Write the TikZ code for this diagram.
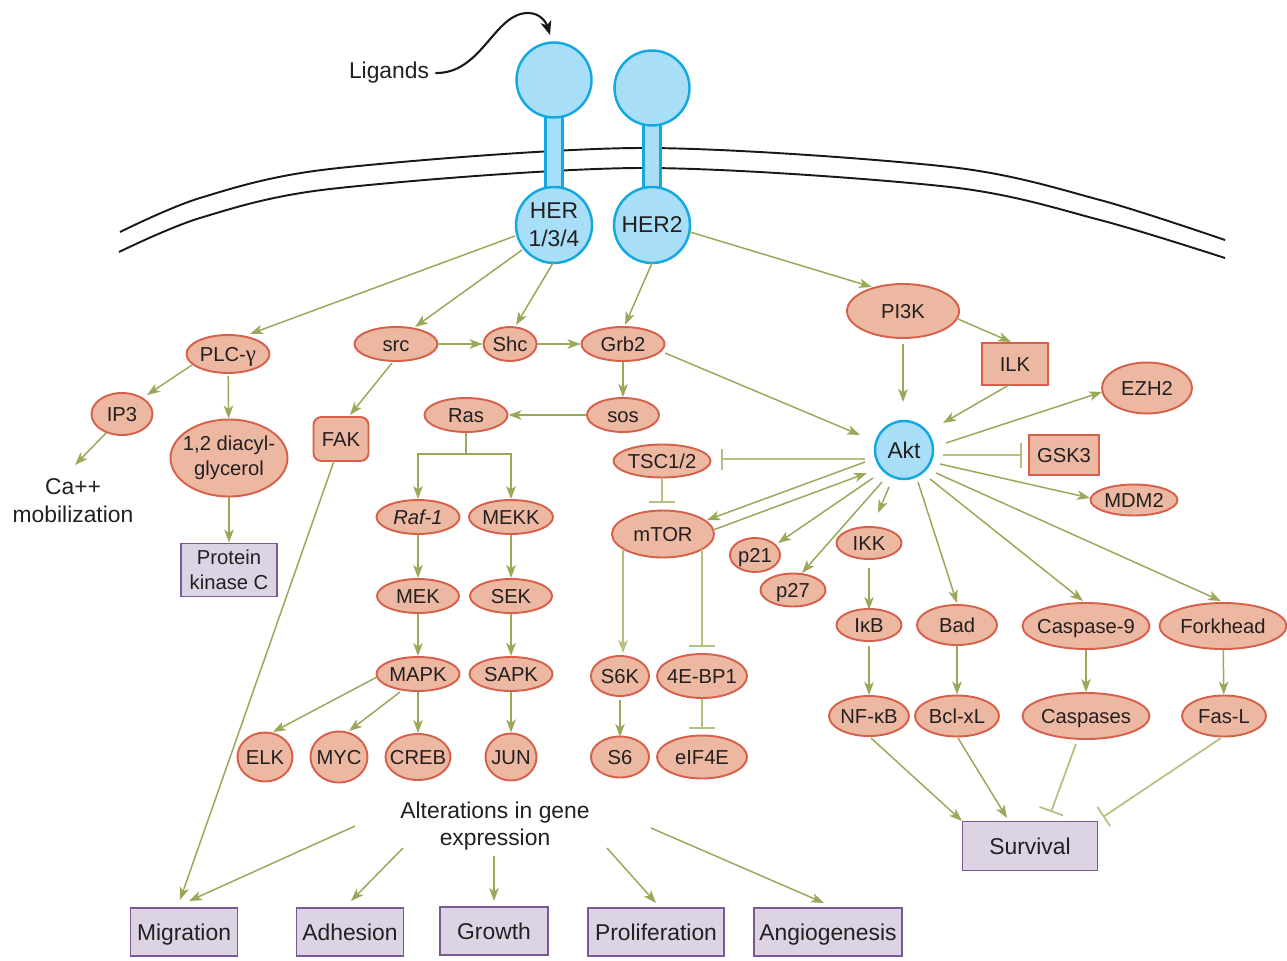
\documentclass[tikz,border=0pt]{standalone}
\usepackage{fontspec}
\setmainfont{Liberation Sans}
\newfontfamily\lser{Liberation Serif}
\usetikzlibrary{arrows.meta,shapes.geometric,calc}
\definecolor{salF}{HTML}{ECB8A2}
\definecolor{salB}{HTML}{D6604A}
\definecolor{bluF}{HTML}{A8DEF7}
\definecolor{bluB}{HTML}{14A8E0}
\definecolor{purF}{HTML}{DCD4E4}
\definecolor{purB}{HTML}{7A5995}
\definecolor{grn}{HTML}{9AA85A}
\definecolor{grnL}{HTML}{B3C283}
\definecolor{txt}{HTML}{231F20}
\tikzset{
  sz/.style 2 args={minimum width=#1*0.02cm, minimum height=#2*0.02cm},
  small/.style={font=\fontsize{11.5}{14.5}\selectfont},
  prot/.style={small, ellipse, draw=salB, fill=salF, line width=1.1pt, inner xsep=-0.4cm, inner ysep=-0.2cm,
    text height=8.2pt, text depth=0pt, align=center},
  multi/.style={text height={}, text depth={}},
  pbox/.style={small, rectangle, draw=salB, fill=salF, line width=1.1pt, inner sep=0pt, text height=8.2pt, text depth=0pt},
  outc/.style={rectangle, draw=purB, fill=purF, line width=1.1pt, inner sep=0pt, align=center,
    text height=9.3pt, text depth=0pt},
  rec/.style={circle, draw=bluB, fill=bluF, line width=1.4pt, inner sep=0pt, align=center},
  plain/.style={inner sep=0pt, align=center},
  ln/.style={draw=grn, line width=0.85pt},
  arr/.style={ln, -{Stealth[length=0.26cm,width=0.19cm,inset=0.07cm]}},
  inh/.style={draw=grnL, line width=1pt, -{Bar[width=#1]}},
  memb/.style={draw=black!90, line width=1.1pt},
  stem/.style={draw=bluB, fill=bluF, line width=1.4pt},
}
\begin{document}
\begin{tikzpicture}[x=0.02cm, y=-0.02cm, font=\fontsize{13}{15.8}\selectfont,
  every node/.append style={text=txt}]
\useasboundingbox (0,0) rectangle (1287,960);
% membrane
\draw[memb] plot[smooth] coordinates {(120,232) (200,198) (330,169) (640,148) (950,167) (1100,200) (1225,240)};
\draw[memb] plot[smooth] coordinates {(119,252) (200,218) (330,189) (640,168) (950,187) (1100,220) (1225,258)};
% receptor stems
\draw[stem] (545.5,112) rectangle (562.5,192);
\draw[stem] (643.5,120) rectangle (660.5,192);
% receptors
\node[rec, minimum size=75*0.02cm] (h1top) at (554,80) {};
\node[rec, minimum size=76*0.02cm] (h1) at (554,225) {HER\\1/3/4};
\node[rec, minimum size=75*0.02cm] (h2top) at (652,88) {};
\node[rec, minimum size=76*0.02cm] (h2) at (652,225) {HER2};
% ligands
\node[plain] (lig) at (389,73) {Ligands};
\draw[line width=1.2pt, black!90, -{Stealth[length=0.28cm,width=0.22cm,inset=0.08cm]}]
  ($(lig.east)+(6,0)$) .. controls (482,74) and (494,13) .. (528,13)
  .. controls (540,13) and (546,22) .. ($(h1top)+(-4,-45)$);
% left branch
\node[prot, sz={83}{38}] (plc) at (228,354) {PLC-{\lser\fontsize{13}{14}\selectfont γ}};
\node[prot, sz={61}{42}] (ip3) at (122,414) {IP3};
\node[prot, multi, sz={117}{77}] (dag) at (229,458) {1,2 diacyl-\\glycerol};
\node[plain] (ca) at (73,501) {Ca++\\mobilization};
\node[outc, small, multi, sz={96}{53}] (pkc) at (229,570) {Protein\\kinase C};
\node[prot, sz={83}{34}] (src) at (396,344) {src};
\node[prot, sz={53}{34}] (shc) at (510,344) {Shc};
\node[prot, sz={83}{34}] (grb2) at (623,344) {Grb2};
\node[pbox, rounded corners=0.16cm, sz={55}{44}] (fak) at (341,439) {FAK};
\node[prot, sz={83}{34}] (ras) at (466,415) {Ras};
\node[prot, sz={72}{34}] (sos) at (623,415) {sos};
\node[prot, sz={83}{34}] (raf) at (418,517) {\itshape Raf-1};
\node[prot, sz={84}{34}] (mekk) at (511,517) {MEKK};
\node[prot, sz={82}{34}] (mek) at (418,596) {MEK};
\node[prot, sz={82}{34}] (sek) at (511,596) {SEK};
\node[prot, sz={83}{34}] (mapk) at (418,674) {MAPK};
\node[prot, sz={83}{34}] (sapk) at (511,674) {SAPK};
\node[prot, sz={55}{49}] (elk) at (265,757) {ELK};
\node[prot, sz={57}{51}] (myc) at (339,757) {MYC};
\node[prot, sz={65}{46}] (creb) at (418,757) {CREB};
\node[prot, sz={51}{47}] (jun) at (511,757) {JUN};
% mTOR branch
\node[prot, sz={97}{33}] (tsc) at (662,461) {TSC1/2};
\node[prot, sz={102}{47}] (mtor) at (663,534) {mTOR};
\node[prot, sz={58}{40}] (s6k) at (620,676) {S6K};
\node[prot, sz={90}{44}] (ebp) at (702,676) {4E-BP1};
\node[prot, sz={58}{41}] (s6) at (620,757) {S6};
\node[prot, sz={90}{43}] (eif) at (702,757) {eIF4E};
% Akt branch
\node[prot, sz={112}{54}] (pi3k) at (903,311) {PI3K};
\node[pbox, sz={66}{42}] (ilk) at (1015,364) {ILK};
\node[prot, sz={90}{51}] (ezh2) at (1147,388) {EZH2};
\node[rec, minimum size=58*0.02cm] (akt) at (904,450) {Akt};
\node[pbox, sz={70}{40}] (gsk3) at (1064,455) {GSK3};
\node[prot, sz={87}{31}] (mdm2) at (1134,500) {MDM2};
\node[prot, sz={50}{34}] (p21) at (755,555) {p21};
\node[prot, sz={65}{33}] (p27) at (793,590) {p27};
\node[prot, sz={65}{32}] (ikk) at (869,543) {IKK};
\node[prot, sz={65}{32}] (ikb) at (869,625) {IκB};
\node[prot, sz={80}{40}] (bad) at (957,625) {Bad};
\node[prot, sz={127}{46}] (casp9) at (1086,626) {Caspase-9};
\node[prot, sz={127}{46}] (fork) at (1223,626) {Forkhead};
\node[prot, sz={80}{40}] (nfkb) at (869,716) {NF-κB};
\node[prot, sz={84}{41}] (bcl) at (957,716) {Bcl-xL};
\node[prot, sz={127}{46}] (casps) at (1086,716) {Caspases};
\node[prot, sz={84}{41}] (fasl) at (1224,716) {Fas-L};
\node[outc, sz={135}{49}] (surv) at (1030,846) {Survival};
% outcomes
\node[plain] (alt) at (495,826) {Alterations in gene\\expression};
\node[outc, sz={107}{48}] (mig) at (184,932) {Migration};
\node[outc, sz={107}{48}] (adh) at (350,932) {Adhesion};
\node[outc, sz={108}{48}] (grow) at (494,931) {Growth};
\node[outc, sz={136}{48}] (prol) at (656,932) {Proliferation};
\node[outc, sz={148}{48}] (ang) at (828,932) {Angiogenesis};
% connectors: receptors
\draw[arr] ($(h1)+(-39,11)$) -- ($(plc)+(22,-20)$);
\draw[arr] ($(h1)+(-32,25)$) -- ($(src)+(19,-17)$);
\draw[arr] ($(h1)+(-1,38)$) -- ($(shc)+(6,-19)$);
\draw[arr] ($(h2)+(0,38)$) -- ($(grb2)+(2,-19)$);
\draw[arr] ($(h2)+(38,7)$) -- ($(pi3k)+(-31,-24)$);
% PLC branch
\draw[arr] ($(plc)+(-36,11)$) -- ($(ip3)+(25,-19)$);
\draw[arr, shorten <=0.04cm] (plc) -- (dag);
\draw[arr] ($(ip3)+(-16,19)$) -- ($(ca)+(2,-36)$);
\draw[arr] (dag) -- (pkc);
% src / Ras branch
\draw[arr] (src) -- (shc);
\draw[arr] (shc) -- (grb2);
\draw[arr] ($(src)+(-4,19)$) -- ($(fak)+(9,-24)$);
\draw[arr] (grb2) -- (sos);
\draw[arr] ($(grb2)+(42,9)$) -- ($(akt)+(-44,-15)$);
\draw[arr] (sos) -- (ras);
\draw[ln] (ras.south) -- ++(0,21) coordinate (rb);
\draw[arr] (rb) -| (raf);
\draw[arr] (rb) -| (mekk);
\draw[arr] (raf) -- (mek);
\draw[arr, line width=1.2pt] (mekk) -- (sek);
\draw[arr] (mek) -- (mapk);
\draw[arr, line width=1.2pt] (sek) -- (sapk);
\draw[arr] (mapk) -- (creb);
\draw[arr, line width=1.2pt] (sapk) -- (jun);
\draw[arr] ($(mapk)+(-41,3)$) -- ($(elk)+(8,-25)$);
\draw[arr] ($(mapk)+(-18,18)$) -- ($(myc)+(10,-26)$);
\draw[arr] ($(fak)+(-7,22)$) -- ($(mig)+(-4,-32)$);
% outcomes
\draw[arr] ($(alt)+(-140,0)$) -- ($(mig)+(5,-31)$);
\draw[arr] ($(alt)+(-92,22)$) -- ($(adh)+(1,-31)$);
\draw[arr] ($(alt)+(-1,30)$) -- ($(grow)+(0,-30)$);
\draw[arr] ($(alt)+(112,22)$) -- ($(prol)+(0,-29)$);
\draw[arr] ($(alt)+(156,2)$) -- ($(ang)+(-4,-29)$);
% Akt
\draw[arr] ($(pi3k)+(0,33)$) -- ($(akt)+(-1,-48)$);
\draw[arr] ($(pi3k)+(55,8)$) -- ($(ilk)+(-4,-22)$);
\draw[arr] ($(ilk)+(-6,21)$) -- ($(akt)+(39,-27)$);
\draw[arr] ($(akt)+(42,-7)$) -- ($(ezh2)+(-45,4)$);
\draw[inh=0.5cm] ($(akt)+(39,5)$) -- ($(gsk3)+(-42,0)$);
\draw[arr] ($(akt)+(36,14)$) -- ($(mdm2)+(-44,-2)$);
\draw[inh=0.42cm] ($(akt)+(-39,9)$) -- ($(tsc)+(59,-2)$);
\draw[inh=0.52cm] ($(tsc)+(0,17)$) -- ($(mtor)+(-1,-31)$);
\draw[arr] ($(akt)+(-39,12)$) -- ($(mtor)+(44,-14)$);
\draw[arr] ($(mtor)+(50,-4)$) -- ($(akt)+(-37,23)$);
\draw[arr] ($(akt)+(-31,28)$) -- ($(p21)+(23,-12)$);
\draw[arr] ($(akt)+(-22,32)$) -- ($(p27)+(9,-17)$);
\draw[arr] ($(akt)+(-15,37)$) -- ($(ikk)+(9,-30)$);
\draw[arr] ($(ikk)+(0,25)$) -- ($(ikb)+(0,-15)$);
\draw[arr] ($(akt)+(14,32)$) -- ($(bad)+(0,-22)$);
\draw[arr] ($(akt)+(26,29)$) -- ($(casp9)+(-3,-25)$);
\draw[arr] ($(akt)+(32,23)$) -- ($(fork)+(-2,-25)$);
\draw[arr, shorten <=0.08cm] (ikb) -- (nfkb);
\draw[arr] (bad) -- (bcl);
\draw[arr] (casp9) -- (casps);
\draw[arr] (fork) -- (fasl);
\draw[arr] ($(nfkb)+(2,22)$) -- ($(surv)+(-68,-25)$);
\draw[arr] ($(bcl)+(1,22)$) -- ($(surv)+(-23,-28)$);
\draw[inh=0.5cm] ($(casps)+(-10,28)$) -- ($(surv)+(21,-34)$);
\draw[inh=0.46cm] ($(fasl)+(-3,22)$) -- ($(surv)+(73,-29)$);
% mTOR targets
\draw[arr, draw=grnL, line width=1pt] ($(mtor)+(-40,15)$) -- ($(s6k)+(3,-23)$);
\draw[inh=0.52cm] ($(mtor)+(39,15)$) -- ($(ebp)+(0,-29)$);
\draw[arr] ($(s6k)+(0,24)$) -- ($(s6)+(0,-20)$);
\draw[inh=0.52cm] ($(ebp)+(0,23)$) -- ($(eif)+(0,-28)$);
\end{tikzpicture}
\end{document}
